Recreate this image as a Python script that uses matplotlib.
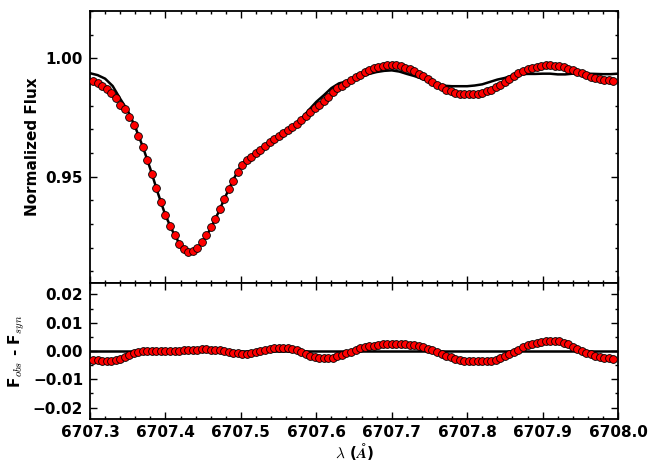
import numpy as np
import matplotlib
matplotlib.use("Agg")
import matplotlib.pyplot as plt
from matplotlib.ticker import MultipleLocator, FuncFormatter

# observed spectrum, sampled every 0.006 A from 6707.304
obs_start, obs_step = 6707.304, 0.006
obs_flux = [
    0.9906, 0.9896, 0.9884, 0.9871, 0.9855, 0.9834, 0.9802, 0.9784, 0.9753, 0.9717,
    0.9673, 0.9625, 0.9572, 0.9512, 0.9450, 0.9391, 0.9336, 0.9293, 0.9254, 0.9216,
    0.9194, 0.9183, 0.9186, 0.9199, 0.9222, 0.9255, 0.9286, 0.9322, 0.9364, 0.9404,
    0.9449, 0.9481, 0.9518, 0.9547, 0.9568, 0.9584, 0.9598, 0.9614, 0.9630, 0.9645,
    0.9657, 0.9670, 0.9683, 0.9696, 0.9708, 0.9723, 0.9739, 0.9755, 0.9771, 0.9788,
    0.9804, 0.9819, 0.9837, 0.9856, 0.9873, 0.9881, 0.9894, 0.9908, 0.9920, 0.9930,
    0.9941, 0.9950, 0.9958, 0.9964, 0.9969, 0.9972, 0.9973, 0.9972, 0.9967, 0.9961,
    0.9953, 0.9945, 0.9935, 0.9924, 0.9912, 0.9900, 0.9887, 0.9877, 0.9867, 0.9860,
    0.9855, 0.9851, 0.9848, 0.9847, 0.9847, 0.9849, 0.9853, 0.9860, 0.9868, 0.9877,
    0.9888, 0.9899, 0.9913, 0.9927, 0.9938, 0.9947, 0.9954, 0.9960, 0.9965, 0.9968,
    0.9970, 0.9971, 0.9969, 0.9966, 0.9962, 0.9956, 0.9950, 0.9943, 0.9936, 0.9929,
    0.9923, 0.9918, 0.9914, 0.9910, 0.9907, 0.9905,
]
residual = [
    -0.0030, -0.0033, -0.0036, -0.0037, -0.0036, -0.0032, -0.0027, -0.0021, -0.0014, -0.0008,
    -0.0004, -0.0001, 0.0000, 0.0000, 0.0000, 0.0000, 0.0000, 0.0000, 0.0001, 0.0001,
    0.0002, 0.0003, 0.0004, 0.0005, 0.0006, 0.0006, 0.0005, 0.0004, 0.0002, 0.0000,
    -0.0003, -0.0006, -0.0008, -0.0010, -0.0010, -0.0008, -0.0004, 0.0000, 0.0004, 0.0007,
    0.0009, 0.0010, 0.0010, 0.0009, 0.0006, 0.0002, -0.0004, -0.0011, -0.0017, -0.0021,
    -0.0024, -0.0025, -0.0025, -0.0023, -0.0019, -0.0014, -0.0008, -0.0002, 0.0004, 0.0009,
    0.0013, 0.0016, 0.0019, 0.0021, 0.0023, 0.0024, 0.0024, 0.0025, 0.0025, 0.0024,
    0.0022, 0.0020, 0.0017, 0.0013, 0.0008, 0.0003, -0.0003, -0.0009, -0.0016, -0.0022,
    -0.0027, -0.0031, -0.0034, -0.0036, -0.0037, -0.0037, -0.0037, -0.0036, -0.0034, -0.0031,
    -0.0025, -0.0018, -0.0011, -0.0003, 0.0005, 0.0013, 0.0020, 0.0026, 0.0030, 0.0033,
    0.0035, 0.0036, 0.0036, 0.0034, 0.0030, 0.0023, 0.0015, 0.0008, 0.0001, -0.0006,
    -0.0011, -0.0016, -0.0020, -0.0023, -0.0026, -0.0029,
]

# synthetic spectrum, every 0.01 A from 6707.30
syn_start, syn_step = 6707.30, 0.01
syn_flux = [
    0.9937, 0.9929, 0.9914, 0.9883, 0.9829, 0.9779, 0.9709, 0.9626, 0.9532, 0.9430,
    0.9336, 0.9266, 0.9208, 0.9180, 0.9190, 0.9227, 0.9281, 0.9347, 0.9419, 0.9487,
    0.9547, 0.9582, 0.9602, 0.9622, 0.9641, 0.9660, 0.9682, 0.9708, 0.9743, 0.9781,
    0.9816, 0.9844, 0.9874, 0.9894, 0.9902, 0.9914, 0.9924, 0.9934, 0.9942, 0.9947,
    0.9949, 0.9944, 0.9934, 0.9925, 0.9914, 0.9901, 0.9890, 0.9884, 0.9882, 0.9882,
    0.9882, 0.9885, 0.9890, 0.9900, 0.9910, 0.9917, 0.9928, 0.9933, 0.9934, 0.9934,
    0.9935, 0.9935, 0.9932, 0.9932, 0.9935, 0.9935, 0.9935, 0.9934, 0.9933, 0.9933,
    0.9935,
]

obs_wave = obs_start + obs_step * np.arange(len(obs_flux))
syn_wave = syn_start + syn_step * np.arange(len(syn_flux))


def fmt(decimals):
    return FuncFormatter(lambda v, pos: f"{v:.{decimals}f}".replace("-", "\u2212"))


plt.rcParams.update({
    "font.family": "DejaVu Sans",
    "font.weight": "bold",
    "axes.labelweight": "bold",
    "font.size": 11,
    "mathtext.fontset": "cm",
    "axes.linewidth": 1.3,
    "xtick.major.size": 5,
    "ytick.major.size": 5,
    "xtick.minor.size": 2.5,
    "ytick.minor.size": 2.5,
    "xtick.major.width": 1.0,
    "ytick.major.width": 1.0,
    "xtick.minor.width": 1.0,
    "ytick.minor.width": 1.0,
    "xtick.major.pad": 4,
    "ytick.major.pad": 5,
})

fig = plt.figure(figsize=(6.6, 4.62), dpi=100)
ax1 = fig.add_axes([0.1364, 0.3874, 0.8, 0.5888])
ax2 = fig.add_axes([0.1364, 0.0931, 0.8, 0.2943], sharex=ax1)

marker_kw = dict(linestyle="none", marker="o", markersize=5.6,
                 markerfacecolor="red", markeredgecolor="black", markeredgewidth=0.6)

ax1.plot(syn_wave, syn_flux, color="black", lw=1.8, zorder=2)
ax1.plot(obs_wave, obs_flux, zorder=3, **marker_kw)
ax1.set_ylim(0.905, 1.02)
ax1.yaxis.set_major_locator(MultipleLocator(0.05))
ax1.yaxis.set_minor_locator(MultipleLocator(0.01))
ax1.yaxis.set_major_formatter(fmt(2))
ax1.set_ylabel("Normalized Flux")

ax2.axhline(0.0, color="black", lw=1.8, zorder=2)
ax2.plot(obs_wave, residual, zorder=3, **marker_kw)
ax2.set_ylim(-0.024, 0.024)
ax2.yaxis.set_major_locator(MultipleLocator(0.01))
ax2.yaxis.set_minor_locator(MultipleLocator(0.005))
ax2.yaxis.set_major_formatter(fmt(2))
ax2.set_ylabel(r"F$_{obs}$ - F$_{syn}$")
ax2.set_xlabel(r"$\lambda$ ($\AA$)", labelpad=1)

ax2.set_xlim(6707.3, 6708.0)
ax2.xaxis.set_major_locator(MultipleLocator(0.1))
ax2.xaxis.set_minor_locator(MultipleLocator(0.02))
ax2.xaxis.set_major_formatter(fmt(1))

for ax in (ax1, ax2):
    ax.tick_params(which="both", top=True, right=True, direction="in")
ax1.tick_params(which="both", labelbottom=False)

fig.savefig("out.png", dpi=100)
